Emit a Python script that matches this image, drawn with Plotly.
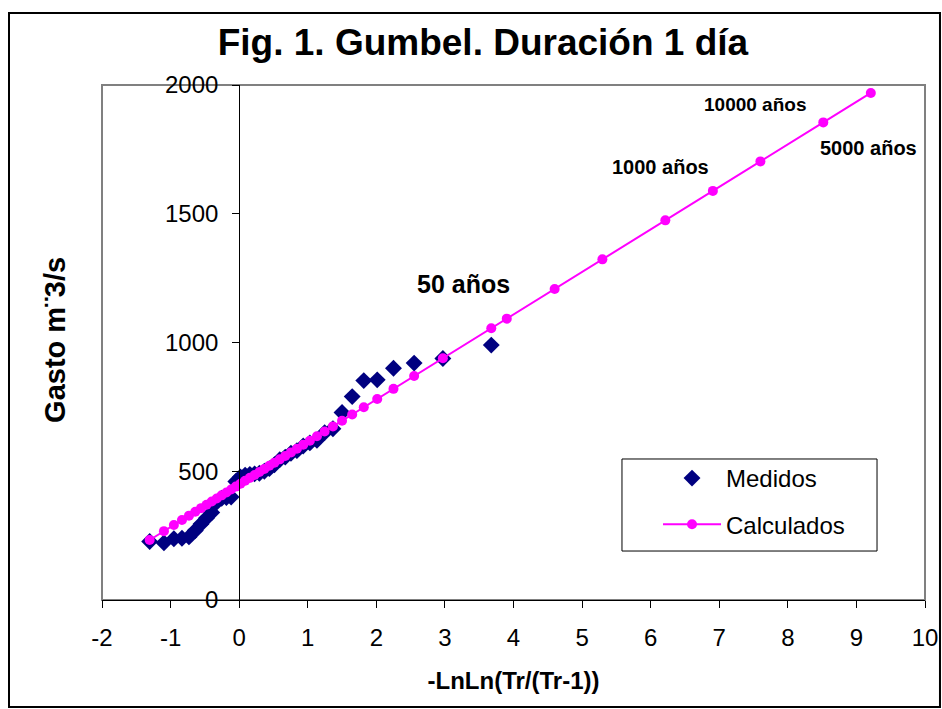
import plotly.graph_objects as go

# ---- data ----
medidos_x = [3.676, 2.970, 2.551, 2.250, 2.013, 1.817, 1.648, 1.500, 1.367, 1.246,
             1.134, 1.031, 0.934, 0.842, 0.755, 0.672, 0.592, 0.514, 0.440, 0.367,
             0.295, 0.225, 0.156, 0.087, 0.019, -0.049, -0.117, -0.186, -0.255, -0.327,
             -0.400, -0.476, -0.556, -0.640, -0.732, -0.834, -0.952, -1.097, -1.305]
medidos_q = [990, 938, 920, 900, 855, 852, 790, 728, 665, 650,
             620, 610, 598, 580, 570, 555, 545, 525, 510, 500,
             492, 490, 488, 485, 478, 460, 400, 398, 395, 380,
             340, 318, 295, 270, 245, 240, 238, 222, 227]

calc_x = [-1.305, -1.097, -0.952, -0.834, -0.732, -0.640, -0.556, -0.476, -0.400, -0.327,
          -0.255, -0.186, -0.117, -0.049, 0.019, 0.087, 0.156, 0.225, 0.295, 0.367,
          0.440, 0.514, 0.592, 0.672, 0.755, 0.842, 0.934, 1.031, 1.134, 1.246,
          1.367, 1.500, 1.648, 1.817, 2.013, 2.250, 2.551, 2.970, 3.676, 3.902,
          4.600, 5.296, 6.214, 6.907, 7.600, 8.517, 9.210]
calc_q = [233.0, 267.4, 291.3, 310.8, 327.6, 342.8, 356.7, 369.9, 382.5, 394.5,
          406.4, 417.8, 429.2, 440.4, 451.6, 462.9, 474.3, 485.6, 497.2, 509.1,
          521.1, 533.4, 546.2, 559.4, 573.2, 587.5, 602.7, 618.7, 635.7, 654.2,
          674.2, 696.2, 720.6, 748.5, 780.8, 820.0, 869.7, 938.8, 1055.4, 1092.7,
          1208.0, 1322.9, 1474.4, 1588.8, 1703.3, 1854.7, 1969.1]

x_ticks = [-2, -1, 0, 1, 2, 3, 4, 5, 6, 7, 8, 9, 10]
x_ticktext = ["-2", "-1", "0", "1", "2", "3", "4", "5", "6", "7", "8", "9", "10"]
y_ticks = [0, 500, 1000, 1500, 2000]
y_ticktext = ["0", "500", "1000", "1500", "2000"]

labels_text = ["50 años", "1000 años", "10000 años", "5000 años"]
labels_x = [3.27, 6.15, 7.52, 9.18]
labels_y = [1227, 1681, 1926, 1755]
labels_size = [25, 20, 19, 20]

FONT = "Liberation Sans, Arial, sans-serif"

fig = go.Figure()
fig.add_trace(go.Scatter(
    x=medidos_x, y=medidos_q, mode="markers", name="Medidos",
    legendgroup="a",
    marker=dict(symbol="diamond", size=13, color="#000080"),
))
fig.add_trace(go.Scatter(
    x=calc_x, y=calc_q, mode="lines+markers", name="Calculados",
    legendgroup="b",
    line=dict(color="#FF00FF", width=2),
    marker=dict(symbol="circle", size=10, color="#FF00FF"),
))

annotations = []
for t, ax_, ay_, sz in zip(labels_text, labels_x, labels_y, labels_size):
    annotations.append(dict(x=ax_, y=ay_, xref="x", yref="y", text="<b>%s</b>" % t,
                            showarrow=False, font=dict(family=FONT, size=sz, color="black")))
annotations.append(dict(x=-0.0571, y=0.505, xref="paper", yref="paper",
                        xanchor="center", yanchor="middle",
                        text="<b>Gasto m¨3/s</b>", textangle=-90, showarrow=False,
                        font=dict(family=FONT, size=29, color="black")))

fig.update_layout(
    width=942, height=709, autosize=False,
    margin=dict(l=102, r=17, t=85, b=109, autoexpand=False),
    paper_bgcolor="white", plot_bgcolor="white",
    font=dict(family=FONT, color="black"),
    title=dict(text="<b>Fig. 1. Gumbel. Duración 1 día</b>", x=0.5127, y=0.9408,
               xanchor="center", yanchor="middle",
               font=dict(family=FONT, size=37, color="black")),
    xaxis=dict(range=[-2, 10], tickvals=x_ticks, ticktext=x_ticktext,
               showgrid=False, zeroline=False, automargin=False,
               showline=True, linecolor="black", linewidth=1,
               ticks="outside", ticklen=7, tickcolor="black", ticklabelstandoff=9,
               tickfont=dict(family=FONT, size=24, color="black"),
               title=dict(text="<b>-LnLn(Tr/(Tr-1))</b>", standoff=22,
                          font=dict(family=FONT, size=24, color="black"))),
    yaxis=dict(range=[0, 2000], tickvals=y_ticks, ticktext=y_ticktext,
               showgrid=False, zeroline=False, automargin=False,
               anchor="free", position=2 / 12,
               showline=True, linecolor="black", linewidth=1,
               ticks="outside", ticklen=7, tickcolor="black", ticklabelstandoff=9,
               tickfont=dict(family=FONT, size=24, color="black")),
    legend=dict(x=0.6756, y=0.2796, xanchor="left", yanchor="top",
                borderwidth=0, bgcolor="rgba(0,0,0,0)",
                font=dict(family=FONT, size=24, color="black"),
                itemwidth=58, traceorder="grouped", tracegroupgap=12),
    annotations=annotations,
    shapes=[
        dict(type="rect", xref="paper", yref="paper", x0=0, x1=1, y0=0, y1=1,
             line=dict(color="#808080", width=2), layer="below"),
        dict(type="rect", xref="paper", yref="paper", x0=-0.1130, x1=1.0182,
             y0=-0.2078, y1=1.1398, line=dict(color="black", width=2), layer="below"),
        dict(type="rect", xref="paper", yref="paper", x0=0.6318, x1=0.9417,
             y0=0.0951, y1=0.2738, line=dict(color="black", width=1),
             fillcolor="white", layer="above"),
    ],
)

fig.write_html(
    "out.html",
    config={"displayModeBar": False},
    post_script="document.body.style.margin='0';document.body.style.overflow='hidden';",
)
